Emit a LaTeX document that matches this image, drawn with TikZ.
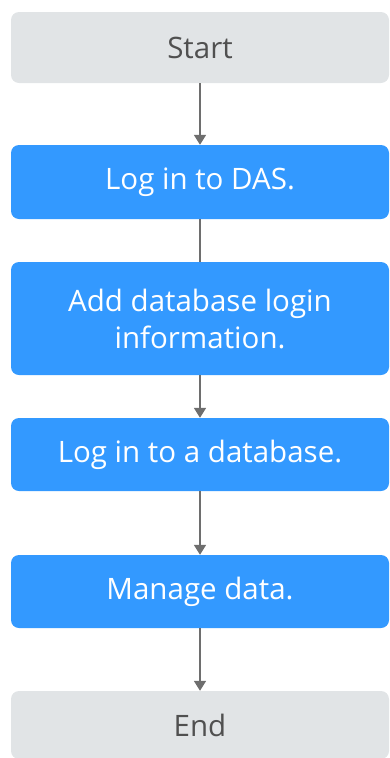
\documentclass[tikz,border=0pt]{standalone}
\usepackage{fontspec}
\setmainfont{Open Sans}
\usetikzlibrary{arrows.meta}
\definecolor{stepblue}{HTML}{3399FF}
\definecolor{termgray}{HTML}{E1E4E6}
\definecolor{termtext}{HTML}{505050}
\definecolor{linkgray}{HTML}{6E6E6E}
\tikzset{
  x=1pt, y=-1pt,
  boxbase/.style={rounded corners=8pt, minimum width=378pt, inner sep=0pt, align=center,
    font=\fontsize{29.5}{37}\selectfont},
  termbox/.style={boxbase, fill=termgray, text=termtext},
  stepbox/.style={boxbase, fill=stepblue, text=white},
  link/.style={draw=linkgray, line width=1.8pt, -{Triangle[width=12pt,length=10pt]}},
  plainlink/.style={draw=linkgray, line width=1.8pt}
}
\begin{document}
\begin{tikzpicture}
\useasboundingbox (0,0) rectangle (390,758);
\node[termbox, minimum height=71pt] (start) at (200,47.5) {Start};
\node[stepbox, minimum height=74pt] (das) at (200,182) {Log in to DAS.};
\node[stepbox, minimum height=113pt] (add) at (200,318.5) {Add database login\\information.};
\node[stepbox, minimum height=73pt] (db) at (200,454.5) {Log in to a database.};
\node[stepbox, minimum height=73pt] (manage) at (200,591.5) {Manage data.};
\node[termbox, minimum height=68pt] (end) at (200,725) {End};
\draw[link] (start) -- (das);
\draw[plainlink] (das) -- (add);
\draw[link] (add) -- (db);
\draw[link] (db) -- (manage);
\draw[link] (manage) -- (end);
\end{tikzpicture}
\end{document}
